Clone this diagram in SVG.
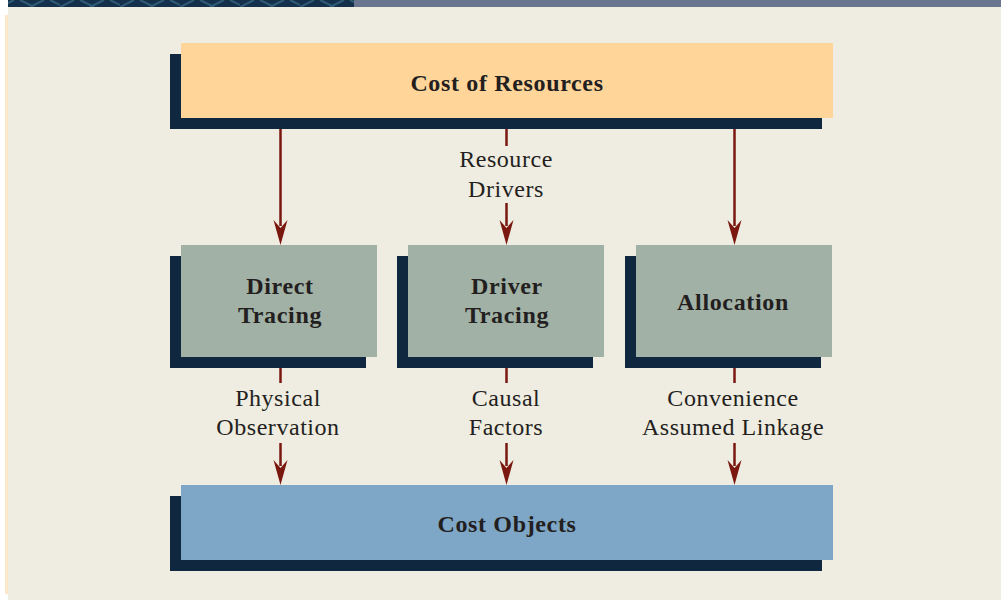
<svg xmlns="http://www.w3.org/2000/svg" width="1001" height="600" viewBox="0 0 1001 600">
  <defs>
    <style>
      .shadow { fill: #10283F; }
      .lbl { font-family: "Liberation Serif", "Times New Roman", serif; font-size: 24px; fill: #231F20; text-anchor: middle; letter-spacing: 0.55px; }
      .bold { font-weight: bold; letter-spacing: 0.65px; }
      .conn { stroke: #7A1810; stroke-width: 2.5; fill: none; }
      .head { fill: #7A1810; }
    </style>
    <pattern id="topPat" width="60" height="7" patternUnits="userSpaceOnUse">
      <rect width="60" height="7" fill="#14304A"/>
      <path d="M0,7 L14,0 M30,7 L44,0 M20,0 L34,7 M50,0 L64,7" stroke="#2E5A75" stroke-width="2"/>
    </pattern>
  </defs>

  <rect x="0" y="0" width="1001" height="600" fill="#FFFFFF"/>
  <rect x="8" y="0" width="346" height="7" fill="url(#topPat)"/>
  <rect x="354" y="0" width="647" height="7" fill="#6A7690"/>
  <rect x="8" y="7" width="993" height="593" fill="#EFECE1"/>
  <rect x="5" y="15" width="3" height="579" fill="#FCE8C8"/>

  <g id="cost-of-resources">
    <rect class="shadow" x="170" y="54" width="652" height="75"/>
    <rect x="181" y="43" width="652" height="75" fill="#FFD59A"/>
    <text class="lbl bold" x="507" y="91">Cost of Resources</text>
  </g>

  <g id="direct-tracing">
    <rect class="shadow" x="170" y="256" width="196" height="112"/>
    <rect x="181" y="245" width="196" height="112" fill="#A2B1A5"/>
    <text class="lbl bold" x="280" y="294">Direct</text>
    <text class="lbl bold" x="280" y="323">Tracing</text>
  </g>

  <g id="driver-tracing">
    <rect class="shadow" x="397" y="256" width="196" height="112"/>
    <rect x="408" y="245" width="196" height="112" fill="#A2B1A5"/>
    <text class="lbl bold" x="507" y="294">Driver</text>
    <text class="lbl bold" x="507" y="323">Tracing</text>
  </g>

  <g id="allocation">
    <rect class="shadow" x="625" y="256" width="196" height="112"/>
    <rect x="636" y="245" width="196" height="112" fill="#A2B1A5"/>
    <text class="lbl bold" x="733" y="310">Allocation</text>
  </g>

  <g id="cost-objects">
    <rect class="shadow" x="170" y="496" width="652" height="75"/>
    <rect x="181" y="485" width="652" height="75" fill="#7EA6C6"/>
    <text class="lbl bold" x="507" y="532">Cost Objects</text>
  </g>

  <g id="connectors">
    <line class="conn" x1="280.5" y1="129" x2="280.5" y2="226"/>
    <path class="head" d="M280.5,245 L273.5,220 L280.5,228 L287.5,220 Z"/>

    <line class="conn" x1="506.5" y1="129" x2="506.5" y2="146"/>
    <line class="conn" x1="506.5" y1="203" x2="506.5" y2="226"/>
    <path class="head" d="M506.5,245 L499.5,220 L506.5,228 L513.5,220 Z"/>
    <text class="lbl" x="506" y="167">Resource</text>
    <text class="lbl" x="506" y="197">Drivers</text>

    <line class="conn" x1="734.5" y1="129" x2="734.5" y2="226"/>
    <path class="head" d="M734.5,245 L727.5,220 L734.5,228 L741.5,220 Z"/>

    <line class="conn" x1="280.5" y1="368" x2="280.5" y2="383"/>
    <line class="conn" x1="280.5" y1="443" x2="280.5" y2="466"/>
    <path class="head" d="M280.5,485 L273.5,460 L280.5,468 L287.5,460 Z"/>
    <text class="lbl" x="278" y="406">Physical</text>
    <text class="lbl" x="278" y="435">Observation</text>

    <line class="conn" x1="506.5" y1="368" x2="506.5" y2="383"/>
    <line class="conn" x1="506.5" y1="443" x2="506.5" y2="466"/>
    <path class="head" d="M506.5,485 L499.5,460 L506.5,468 L513.5,460 Z"/>
    <text class="lbl" x="506" y="406">Causal</text>
    <text class="lbl" x="506" y="435">Factors</text>

    <line class="conn" x1="734.5" y1="368" x2="734.5" y2="383"/>
    <line class="conn" x1="734.5" y1="443" x2="734.5" y2="466"/>
    <path class="head" d="M734.5,485 L727.5,460 L734.5,468 L741.5,460 Z"/>
    <text class="lbl" x="733" y="406">Convenience</text>
    <text class="lbl" x="733" y="435">Assumed Linkage</text>
  </g>
</svg>
